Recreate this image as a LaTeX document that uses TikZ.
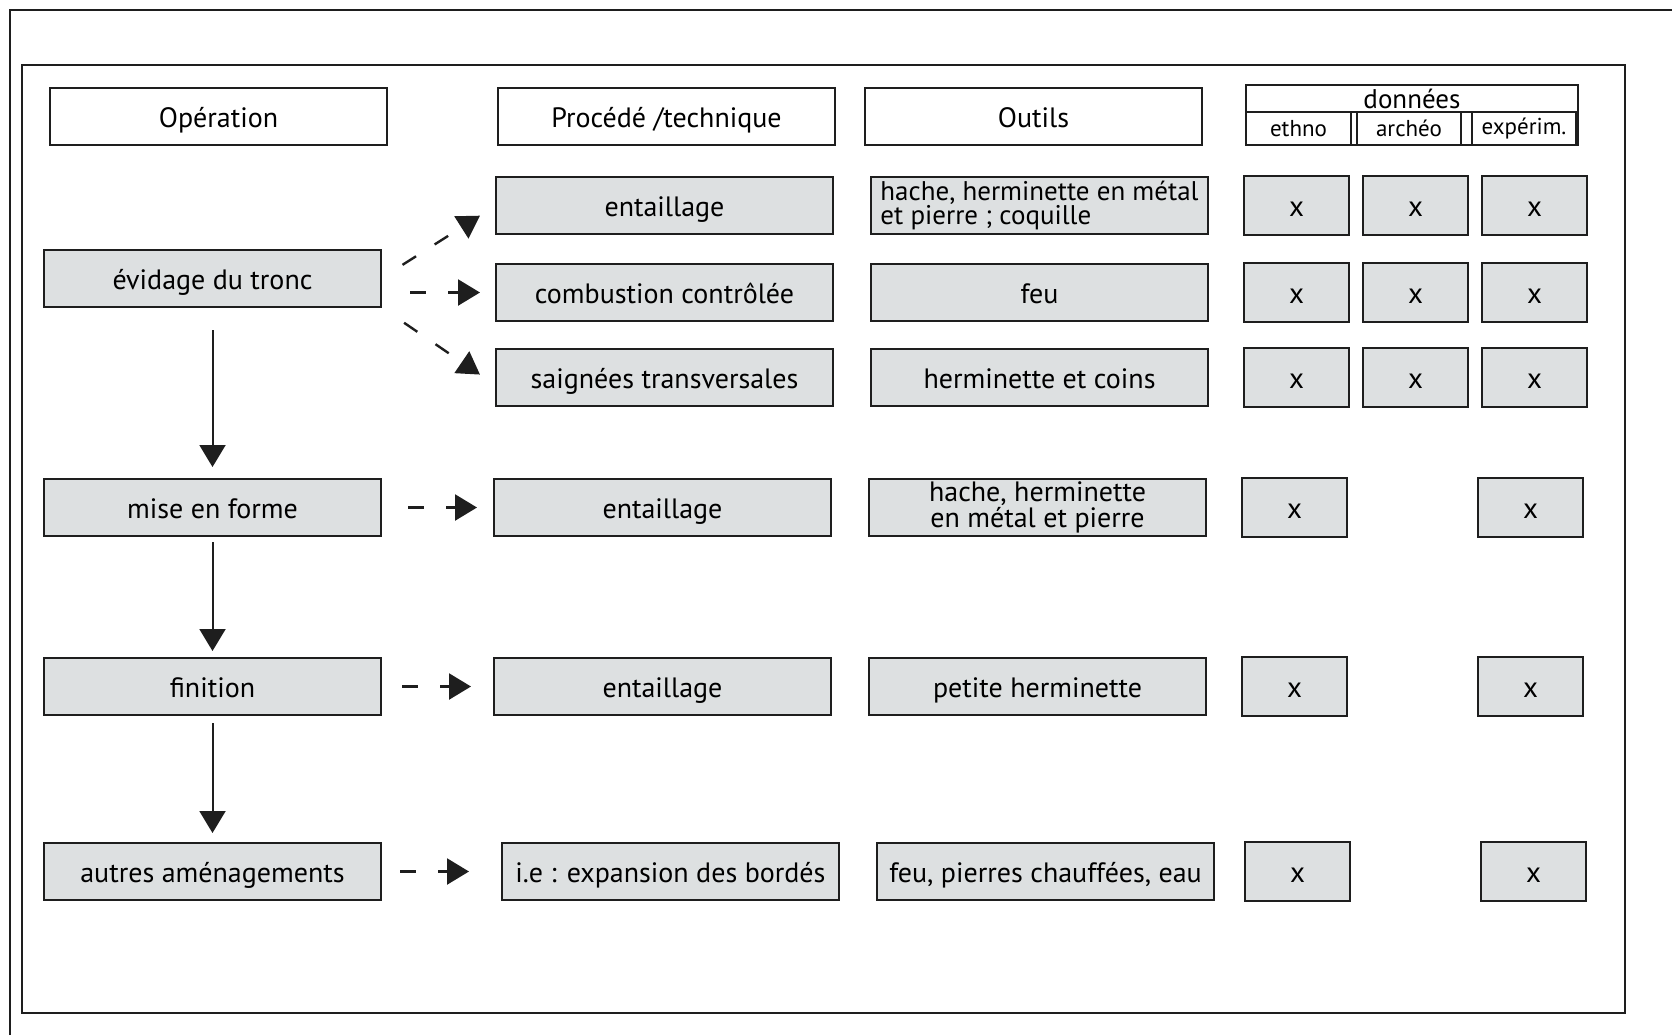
\documentclass[tikz,border=0pt]{standalone}
\usepackage{fontspec}
\setmainfont{PT Sans}
\usepackage{xcolor}
\definecolor{cLine}{HTML}{1E1E1E}
\definecolor{cFill}{HTML}{DDE0E1}
\usepackage{tikz}
\usetikzlibrary{positioning,arrows.meta,fit}
\tikzset{
  node-head/.style={draw=cLine,line width=1pt,minimum width=168.5pt,
    minimum height=28.5pt,inner sep=0pt,outer sep=0pt,align=center,
    text height=12.5pt,text depth=2pt,
    font=\fontsize{14pt}{12pt}\selectfont},
  node-box/.style={node-head,fill=cFill},
  node-two/.style={node-box,text height=,text depth=},
  node-mark/.style={node-box,minimum width=52.5pt,minimum height=29.5pt,
    font=\fontsize{14.5pt}{14.5pt}\selectfont},
  node-sub/.style={draw=cLine,line width=0.7pt,inner sep=0pt,outer sep=0pt,
    minimum height=16.5pt,font=\fontsize{11.5pt}{11.5pt}\selectfont},
  arrow/.style={-{Triangle[length=11pt,width=13pt]},line width=1pt,draw=cLine},
  arrow-dash/.style={arrow,line width=1.2pt,dash pattern=on 8pt off 11pt},
}
\begin{document}
\begin{tikzpicture}[x=0.5pt,y=0.5pt]
  \useasboundingbox (0,0) rectangle (1672,-1035);
  \draw[line width=1pt,draw=cLine] (10,-1035) -- (10,-10) -- (1672,-10);
  \draw[line width=0.8pt,draw=cLine] (22,-65) rectangle (1625,-1013);
  % en-tetes
  \node[node-head] (op) at (218.5,-116.5) {Opération};
  \node[node-head,right=55.5pt of op] (proc) {Procédé /technique};
  \node[node-head,right=15pt of proc] (outil) {Outils};
  \node[node-sub,minimum width=166pt,minimum height=13.5pt,anchor=north west,
    font=\fontsize{13.5pt}{13.5pt}\selectfont] (don) at (1246,-85) {données};
  \node[node-sub,minimum width=52.5pt,below right=0pt and 0pt of don.south west] (ethno) {ethno};
  \node[node-sub,minimum width=52pt,right=3pt of ethno] (archeo) {archéo};
  \node[node-sub,minimum width=52pt,right=5.5pt of archeo] (experim) {expérim.};
  \node[fit=(don)(ethno)(experim),draw=cLine,line width=1pt,inner sep=0pt] (donnees) {};
  % operations
  \node[node-box,below=52.5pt of op,xshift=-3pt] (evid) {évidage du tronc};
  \node[node-box,below=86pt of evid] (mise) {mise en forme};
  \node[node-box,below=61pt of mise] (fin) {finition};
  \node[node-box,below=64pt of fin] (autres) {autres aménagements};
  % procedes
  \node[node-box,below=16pt of proc,xshift=-1pt] (entA) {entaillage};
  \node[node-box,below=15pt of entA] (combu) {combustion contrôlée};
  \node[node-box,below=14pt of combu] (saign) {saignées transversales};
  \node[node-box,right=56.5pt of mise] (entB) {entaillage};
  \node[node-box,right=56.5pt of fin] (entC) {entaillage};
  \node[node-box,right=60.5pt of autres] (expan) {i.e : expansion des bordés};
  % outils
  \node[node-two,right=19pt of entA,align=left,
    font=\fontsize{13.5pt}{12pt}\selectfont] (hacheA) {hache, herminette en métal\\et pierre ; coquille};
  \node[node-box,right=19pt of combu] (feuA) {feu};
  \node[node-box,right=19pt of saign] (herm) {herminette et coins};
  \node[node-two,right=19pt of entB] (hacheB) {hache, herminette\\en métal et pierre};
  \node[node-box,right=19pt of entC] (petite) {petite herminette};
  \node[node-box,right=19pt of expan] (feuB) {feu, pierres chauffées, eau};
  % donnees
  \node[node-mark,right=18pt of hacheA] (xA1) {x};
  \node[node-mark,right=7pt of xA1] (xA2) {x};
  \node[node-mark,right=7pt of xA2] (xA3) {x};
  \node[node-mark,right=18pt of feuA] (xB1) {x};
  \node[node-mark,right=7pt of xB1] (xB2) {x};
  \node[node-mark,right=7pt of xB2] (xB3) {x};
  \node[node-mark,right=18pt of herm] (xC1) {x};
  \node[node-mark,right=7pt of xC1] (xC2) {x};
  \node[node-mark,right=7pt of xC2] (xC3) {x};
  \node[node-mark,right=18pt of hacheB] (xD1) {x};
  \node[node-mark,right=65.5pt of xD1] (xD3) {x};
  \node[node-mark,right=18pt of petite] (xE1) {x};
  \node[node-mark,right=65.5pt of xE1] (xE3) {x};
  \node[node-mark,right=15.5pt of feuB] (xF1) {x};
  \node[node-mark,right=65.5pt of xF1] (xF3) {x};
  % fleches
  \draw[arrow,shorten <=11.5pt,shorten >=6pt] (evid) -- (mise);
  \draw[arrow,shorten <=3pt,shorten >=3.5pt] (mise) -- (fin);
  \draw[arrow,shorten <=4pt,shorten >=5pt] (fin) -- (autres);
  \draw[arrow-dash,shorten <=12.75pt,shorten >=9.5pt] (evid.east) -- (entA.west);
  \draw[arrow-dash,shorten <=14.5pt,shorten >=8pt] (evid.east |- combu.west) -- (combu.west);
  \draw[arrow-dash,shorten <=14pt,shorten >=9.7pt] (evid.south east) -- ([yshift=-4pt]saign.west);
  \draw[arrow-dash,shorten <=13.5pt,shorten >=8.5pt] (mise) -- (entB);
  \draw[arrow-dash,shorten <=10.5pt,shorten >=11.5pt] (fin) -- (entC);
  \draw[arrow-dash,shorten <=9.5pt,shorten >=16.5pt] (autres) -- (expan);
\end{tikzpicture}
\end{document}
